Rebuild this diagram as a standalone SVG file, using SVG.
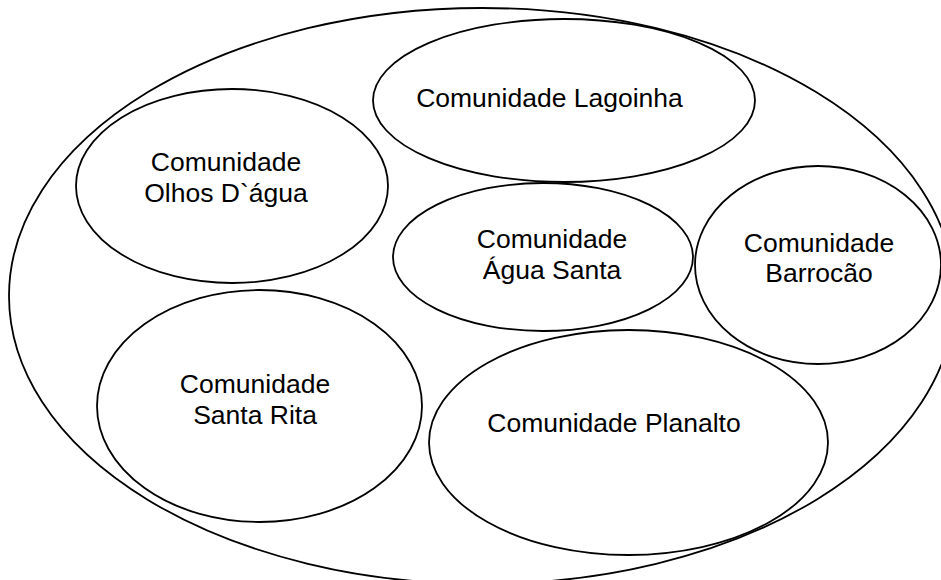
<svg xmlns="http://www.w3.org/2000/svg" width="941" height="580" viewBox="0 0 941 580">
<style>
.n ellipse{fill:none;stroke:#000;stroke-width:1.8}
text{font-family:"Liberation Sans",Arial,sans-serif;font-size:26.5px;fill:#000;text-anchor:middle}
</style>
<rect width="941" height="580" fill="#fff"/>
<g id="outer" class="n"><ellipse cx="482" cy="296" rx="473" ry="288"/></g>
<g id="lagoinha" class="n"><ellipse cx="564" cy="100.5" rx="191" ry="81.5"/><text x="549.5" y="107">Comunidade Lagoinha</text></g>
<g id="olhos" class="n"><ellipse cx="232" cy="186" rx="156" ry="97"/><text x="226" y="171">Comunidade</text><text x="226" y="202">Olhos D`água</text></g>
<g id="agua" class="n"><ellipse cx="543" cy="257" rx="150" ry="74"/><text x="552" y="248">Comunidade</text><text x="552" y="279">Água Santa</text></g>
<g id="barrocao" class="n"><ellipse cx="818" cy="265" rx="123" ry="99"/><text x="819" y="252">Comunidade</text><text x="819" y="282">Barrocão</text></g>
<g id="santarita" class="n"><ellipse cx="259.5" cy="406" rx="162.5" ry="116"/><text x="255" y="393">Comunidade</text><text x="255" y="424">Santa Rita</text></g>
<g id="planalto" class="n"><ellipse cx="628.5" cy="442.5" rx="199.5" ry="112.5"/><text x="614" y="432">Comunidade Planalto</text></g>
<g id="connectors"/>
</svg>
